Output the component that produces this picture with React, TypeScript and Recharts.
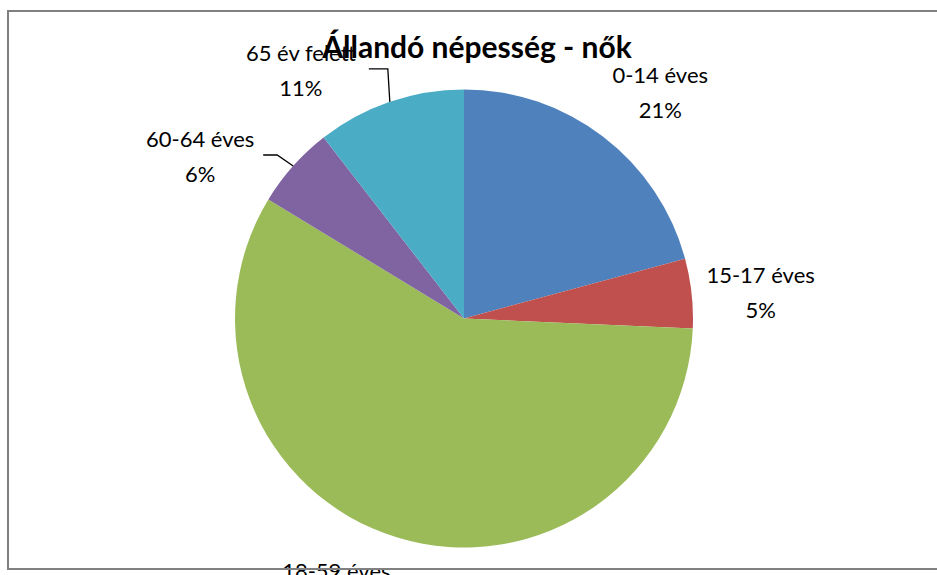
import React from 'react';
import { PieChart, Pie, Cell } from 'recharts';

const categories = ['0-14 éves', '15-17 éves', '18-59 éves', '60-64 éves', '65 év felett'];
const shares = [20.8, 4.9, 58.0, 5.8, 10.5];
const colors = ['#4F81BD', '#C0504D', '#9BBB59', '#8064A2', '#4BACC6'];

const data = categories.map((name, i) => ({ name, value: shares[i] }));

// label placement relative to the slice's outer edge point at its mid angle
const labelShift = [
  { dx: 57, dy: -45 },
  { dx: 69, dy: -2 },
  { dx: -61, dy: 50 },
  { dx: -93, dy: -10 },
  { dx: -89, dy: -32 },
];
// leader lines (elbow, end) relative to edge point; null = none
const leaders: (number[][] | null)[] = [
  null,
  null,
  null,
  [[-16, -11], [-30, -11]],
  [[-2, -33], [-21, -33]],
];

const FONT = 'Lato, "Open Sans", sans-serif';

const renderLabel = (p: any) => {
  const { cx, cy, midAngle, outerRadius, percent, name, index } = p;
  const rad = Math.PI / 180;
  const ex = cx + outerRadius * Math.cos(-midAngle * rad);
  const ey = cy + outerRadius * Math.sin(-midAngle * rad);
  const s = labelShift[index];
  const lx = ex + s.dx;
  const ly = ey + s.dy;
  const ld = leaders[index];
  return (
    <g key={`lab-${index}`}>
      {ld && (
        <polyline
          points={`${ex},${ey} ${ex + ld[0][0]},${ey + ld[0][1]} ${ex + ld[1][0]},${ey + ld[1][1]}`}
          fill="none"
          stroke="#000"
          strokeWidth={1.3}
        />
      )}
      <text x={lx} y={ly - 17} textAnchor="middle" dominantBaseline="central" fontFamily={FONT} fontSize={22} fill="#000">
        {name}
      </text>
      <text x={lx} y={ly + 18} textAnchor="middle" dominantBaseline="central" fontFamily={FONT} fontSize={22} fill="#000">
        {`${Math.round(percent * 100)}%`}
      </text>
    </g>
  );
};

export default function App() {
  return (
    <div style={{ position: 'absolute', left: 0, top: 0, width: 937, height: 575, overflow: 'hidden', background: '#fff' }}>
      <PieChart width={937} height={575} margin={{ top: 0, right: 0, bottom: 0, left: 0 }}>
        <Pie
          data={data}
          dataKey="value"
          nameKey="name"
          cx={464}
          cy={318.5}
          outerRadius={229}
          startAngle={90}
          endAngle={-270}
          stroke="none"
          label={renderLabel}
          labelLine={false}
          isAnimationActive={false}
        >
          {data.map((d, i) => (
            <Cell key={d.name} fill={colors[i]} />
          ))}
        </Pie>
      </PieChart>
      <div
        style={{
          position: 'absolute',
          left: 0,
          top: 28,
          width: 954,
          textAlign: 'center',
          fontFamily: FONT,
          fontWeight: 700,
          fontSize: 30,
          lineHeight: '36px',
          color: '#000',
        }}
      >
        Állandó népesség - nők
      </div>
      <div
        style={{
          position: 'absolute',
          left: 7,
          top: 10,
          width: 940,
          height: 556,
          border: '2px solid #808080',
          pointerEvents: 'none',
        }}
      />
    </div>
  );
}
